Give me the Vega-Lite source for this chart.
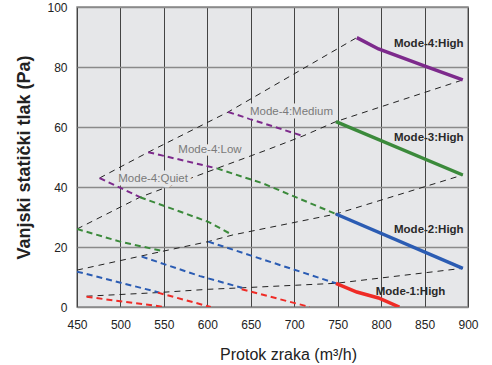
{
  "$schema": "https://vega.github.io/schema/vega-lite/v6.json",
  "width": 391,
  "height": 300,
  "autosize": "none",
  "padding": {"left": 77, "top": 7, "right": 24, "bottom": 58},
  "config": {
    "font": "Liberation Sans",
    "view": {"fill": "#e6e7e9", "stroke": "#8a8a8a", "strokeWidth": 1.5}
  },
  "datasets": {
    "curves": [
      {"curve": "S1", "mode": "System", "kind": "System", "x": 476, "y": 43},
      {"curve": "S1", "mode": "System", "kind": "System", "x": 532, "y": 51.6},
      {"curve": "S1", "mode": "System", "kind": "System", "x": 624, "y": 65},
      {"curve": "S1", "mode": "System", "kind": "System", "x": 772, "y": 89.8},
      {"curve": "S2", "mode": "System", "kind": "System", "x": 450, "y": 26},
      {"curve": "S2", "mode": "System", "kind": "System", "x": 522.5, "y": 36.6},
      {"curve": "S2", "mode": "System", "kind": "System", "x": 611, "y": 46.2},
      {"curve": "S2", "mode": "System", "kind": "System", "x": 668, "y": 52.3},
      {"curve": "S2", "mode": "System", "kind": "System", "x": 710, "y": 57},
      {"curve": "S2", "mode": "System", "kind": "System", "x": 748, "y": 61.8},
      {"curve": "S2", "mode": "System", "kind": "System", "x": 894, "y": 75.7},
      {"curve": "S3", "mode": "System", "kind": "System", "x": 450, "y": 12.3},
      {"curve": "S3", "mode": "System", "kind": "System", "x": 549, "y": 18.6},
      {"curve": "S3", "mode": "System", "kind": "System", "x": 601, "y": 21.8},
      {"curve": "S3", "mode": "System", "kind": "System", "x": 629, "y": 24},
      {"curve": "S3", "mode": "System", "kind": "System", "x": 748, "y": 31},
      {"curve": "S3", "mode": "System", "kind": "System", "x": 894, "y": 44},
      {"curve": "S4", "mode": "System", "kind": "System", "x": 461, "y": 3.6},
      {"curve": "S4", "mode": "System", "kind": "System", "x": 543, "y": 4.8},
      {"curve": "S4", "mode": "System", "kind": "System", "x": 601, "y": 5.9},
      {"curve": "S4", "mode": "System", "kind": "System", "x": 640, "y": 6.4},
      {"curve": "S4", "mode": "System", "kind": "System", "x": 748, "y": 7.9},
      {"curve": "S4", "mode": "System", "kind": "System", "x": 894, "y": 12.9},

      {"curve": "M4-Quiet", "mode": "Mode-4", "kind": "Part", "x": 476, "y": 43},
      {"curve": "M4-Quiet", "mode": "Mode-4", "kind": "Part", "x": 522.5, "y": 36.6},
      {"curve": "M4-Low", "mode": "Mode-4", "kind": "Part", "x": 532, "y": 51.6},
      {"curve": "M4-Low", "mode": "Mode-4", "kind": "Part", "x": 611, "y": 46.2},
      {"curve": "M4-Medium", "mode": "Mode-4", "kind": "Part", "x": 624, "y": 65},
      {"curve": "M4-Medium", "mode": "Mode-4", "kind": "Part", "x": 710, "y": 57},
      {"curve": "M4-High", "mode": "Mode-4", "kind": "High", "x": 772, "y": 89.8},
      {"curve": "M4-High", "mode": "Mode-4", "kind": "High", "x": 797, "y": 86},
      {"curve": "M4-High", "mode": "Mode-4", "kind": "High", "x": 852, "y": 80.1},
      {"curve": "M4-High", "mode": "Mode-4", "kind": "High", "x": 894, "y": 75.7},

      {"curve": "M3-a", "mode": "Mode-3", "kind": "Part", "x": 450, "y": 26},
      {"curve": "M3-a", "mode": "Mode-3", "kind": "Part", "x": 499.5, "y": 21.8},
      {"curve": "M3-a", "mode": "Mode-3", "kind": "Part", "x": 549, "y": 18.6},
      {"curve": "M3-b", "mode": "Mode-3", "kind": "Part", "x": 522.5, "y": 36.6},
      {"curve": "M3-b", "mode": "Mode-3", "kind": "Part", "x": 601, "y": 28.4},
      {"curve": "M3-b", "mode": "Mode-3", "kind": "Part", "x": 629, "y": 24},
      {"curve": "M3-c", "mode": "Mode-3", "kind": "Part", "x": 611, "y": 46.2},
      {"curve": "M3-c", "mode": "Mode-3", "kind": "Part", "x": 664, "y": 41.2},
      {"curve": "M3-c", "mode": "Mode-3", "kind": "Part", "x": 748, "y": 31},
      {"curve": "M3-High", "mode": "Mode-3", "kind": "High", "x": 748, "y": 61.8},
      {"curve": "M3-High", "mode": "Mode-3", "kind": "High", "x": 894, "y": 44},

      {"curve": "M2-a", "mode": "Mode-2", "kind": "Part", "x": 450, "y": 11.8},
      {"curve": "M2-a", "mode": "Mode-2", "kind": "Part", "x": 545, "y": 4.8},
      {"curve": "M2-b", "mode": "Mode-2", "kind": "Part", "x": 524.5, "y": 16.8},
      {"curve": "M2-b", "mode": "Mode-2", "kind": "Part", "x": 591.6, "y": 10.3},
      {"curve": "M2-b", "mode": "Mode-2", "kind": "Part", "x": 640, "y": 6.4},
      {"curve": "M2-c", "mode": "Mode-2", "kind": "Part", "x": 601, "y": 21.8},
      {"curve": "M2-c", "mode": "Mode-2", "kind": "Part", "x": 748, "y": 7.9},
      {"curve": "M2-High", "mode": "Mode-2", "kind": "High", "x": 748, "y": 31},
      {"curve": "M2-High", "mode": "Mode-2", "kind": "High", "x": 894, "y": 12.9},

      {"curve": "M1-a", "mode": "Mode-1", "kind": "Part", "x": 461, "y": 3.4},
      {"curve": "M1-a", "mode": "Mode-1", "kind": "Part", "x": 551, "y": 0},
      {"curve": "M1-b", "mode": "Mode-1", "kind": "Part", "x": 543, "y": 4.8},
      {"curve": "M1-b", "mode": "Mode-1", "kind": "Part", "x": 604, "y": 0},
      {"curve": "M1-c", "mode": "Mode-1", "kind": "Part", "x": 639.5, "y": 5.9},
      {"curve": "M1-c", "mode": "Mode-1", "kind": "Part", "x": 718, "y": 0},
      {"curve": "M1-High", "mode": "Mode-1", "kind": "High", "x": 748, "y": 7.9},
      {"curve": "M1-High", "mode": "Mode-1", "kind": "High", "x": 772, "y": 5},
      {"curve": "M1-High", "mode": "Mode-1", "kind": "High", "x": 797, "y": 3},
      {"curve": "M1-High", "mode": "Mode-1", "kind": "High", "x": 821, "y": 0}
    ],
    "labels": [
      {"label": "Mode-4:High", "kind": "High", "x": 895, "y": 87.7},
      {"label": "Mode-3:High", "kind": "High", "x": 895, "y": 56.3},
      {"label": "Mode-2:High", "kind": "High", "x": 895, "y": 25.7},
      {"label": "Mode-1:High", "kind": "High", "x": 874, "y": 5.1},
      {"label": "Mode-4:Medium", "kind": "Part", "x": 649, "y": 65.1},
      {"label": "Mode-4:Low", "kind": "Part", "x": 566.6, "y": 52.3},
      {"label": "Mode-4:Quiet", "kind": "Part", "x": 497.5, "y": 42.6}
    ]
  },
  "layer": [
    {
      "data": {"name": "curves"},
      "transform": [{"filter": "datum.kind === 'System'"}],
      "mark": {"type": "line", "clip": true, "strokeWidth": 1, "strokeDash": [6, 5], "color": "#222222"},
      "encoding": {
        "x": {
          "field": "x", "type": "quantitative",
          "scale": {"domain": [450, 900], "nice": false, "zero": false},
          "axis": {
            "values": [450, 500, 550, 600, 650, 700, 750, 800, 850, 900],
            "title": "Protok zraka (m³/h)",
            "titleFontSize": 16, "titleFontWeight": "normal", "titleColor": "#222222",
            "titlePadding": 16, "titleX": 211,
            "labelFontSize": 12, "labelColor": "#222222", "labelPadding": 12,
            "labelFlush": false,
            "tickSize": 0, "domain": false,
            "gridColor": "#444444", "gridWidth": 1, "gridOpacity": 1
          }
        },
        "y": {
          "field": "y", "type": "quantitative",
          "scale": {"domain": [0, 100], "nice": false},
          "axis": {
            "values": [0, 20, 40, 60, 80, 100],
            "title": "Vanjski statički tlak (Pa)",
            "titleFontSize": 18, "titleFontWeight": "bold", "titleColor": "#222222",
            "titlePadding": 13,
            "labelFontSize": 12, "labelColor": "#222222", "labelPadding": 10,
            "labelFlush": false,
            "tickSize": 0, "domain": false,
            "gridColor": "#8a8a8a", "gridWidth": 1.6, "gridOpacity": 1
          }
        },
        "detail": {"field": "curve", "type": "nominal"},
        "order": {"field": "x", "type": "quantitative"}
      }
    },
    {
      "data": {"name": "curves"},
      "transform": [{"filter": "datum.kind === 'Part'"}],
      "mark": {"type": "line", "clip": true, "strokeWidth": 2, "strokeDash": [6, 4]},
      "encoding": {
        "x": {"field": "x", "type": "quantitative"},
        "y": {"field": "y", "type": "quantitative"},
        "detail": {"field": "curve", "type": "nominal"},
        "order": {"field": "x", "type": "quantitative"},
        "color": {
          "field": "mode", "type": "nominal", "legend": null,
          "scale": {"domain": ["Mode-1", "Mode-2", "Mode-3", "Mode-4"], "range": ["#ef2b26", "#2b5cb3", "#3b8a3b", "#7d2a8c"]}
        }
      }
    },
    {
      "data": {"name": "curves"},
      "transform": [{"filter": "datum.kind === 'High'"}],
      "mark": {"type": "line", "clip": true, "strokeWidth": 3.5, "strokeCap": "butt"},
      "encoding": {
        "x": {"field": "x", "type": "quantitative"},
        "y": {"field": "y", "type": "quantitative"},
        "detail": {"field": "curve", "type": "nominal"},
        "order": {"field": "x", "type": "quantitative"},
        "color": {"field": "mode", "type": "nominal", "legend": null}
      }
    },
    {
      "data": {"name": "labels"},
      "transform": [{"filter": "datum.kind === 'High'"}],
      "mark": {"type": "text", "align": "right", "baseline": "middle", "fontSize": 11.5, "fontWeight": "bold", "color": "#2a2a2a"},
      "encoding": {
        "x": {"field": "x", "type": "quantitative"},
        "y": {"field": "y", "type": "quantitative"},
        "text": {"field": "label", "type": "nominal"}
      }
    },
    {
      "data": {"name": "labels"},
      "transform": [{"filter": "datum.kind === 'Part'"}],
      "mark": {"type": "text", "align": "left", "baseline": "middle", "fontSize": 11.5, "color": "#e6e7e9", "stroke": "#e6e7e9", "strokeWidth": 7, "strokeJoin": "round"},
      "encoding": {
        "x": {"field": "x", "type": "quantitative"},
        "y": {"field": "y", "type": "quantitative"},
        "text": {"field": "label", "type": "nominal"}
      }
    },
    {
      "data": {"name": "labels"},
      "transform": [{"filter": "datum.kind === 'Part'"}],
      "mark": {"type": "text", "align": "left", "baseline": "middle", "fontSize": 11.5, "color": "#7a7a7a"},
      "encoding": {
        "x": {"field": "x", "type": "quantitative"},
        "y": {"field": "y", "type": "quantitative"},
        "text": {"field": "label", "type": "nominal"}
      }
    }
  ]
}
